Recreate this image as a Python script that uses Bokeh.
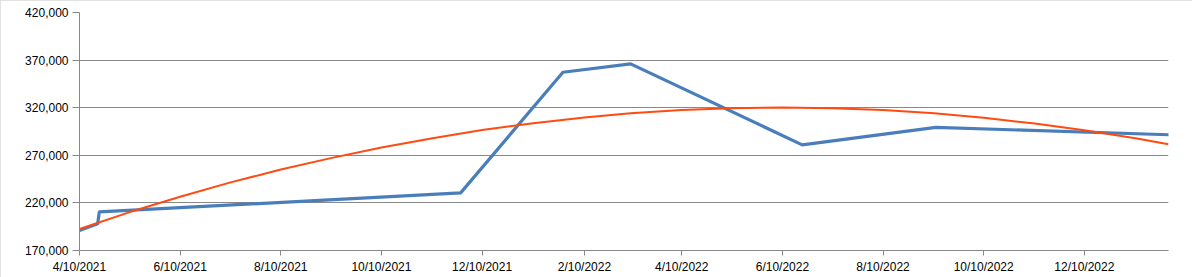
from datetime import datetime
from bokeh.plotting import figure
from bokeh.models import Range1d, FixedTicker, NumeralTickFormatter, CustomJSTickFormatter, ColumnDataSource
from bokeh.embed import file_html
from bokeh.resources import INLINE

# ---- data ----
sale_dates = ["2021-04-10", "2021-04-21", "2021-04-22", "2021-11-27", "2022-01-28",
              "2022-03-10", "2022-06-22", "2022-09-11", "2023-01-30"]
sale_values = [191000, 198200, 210500, 230500, 357200, 366000, 281000, 299300, 291600]

trend_dates = ["2021-04-10", "2021-05-10", "2021-06-10", "2021-07-10", "2021-08-10",
               "2021-09-10", "2021-10-10", "2021-11-10", "2021-12-10", "2022-01-10",
               "2022-02-10", "2022-03-10", "2022-04-10", "2022-05-10", "2022-06-10",
               "2022-07-10", "2022-08-10", "2022-09-10", "2022-10-10", "2022-11-10",
               "2022-12-10", "2023-01-10", "2023-01-30"]
trend_values = [192600, 210100, 226500, 241300, 255000, 267300, 278200, 288000, 296500,
                303700, 309600, 314200, 317500, 319500, 320200, 319500, 317500, 314200,
                309400, 303300, 296200, 287900, 281600]

x_tick_dates = ["2021-04-10", "2021-06-10", "2021-08-10", "2021-10-10", "2021-12-10",
                "2022-02-10", "2022-04-10", "2022-06-10", "2022-08-10", "2022-10-10",
                "2022-12-10"]
y_ticks = [170000, 220000, 270000, 320000, 370000, 420000]
x_start, x_end = "2021-04-10", "2023-01-30"
y_start, y_end = 170000, 420000


def to_dt(s):
    return datetime.strptime(s, "%Y-%m-%d")


def to_ms(s):
    return (to_dt(s) - datetime(1970, 1, 1)).total_seconds() * 1000.0


p = figure(width=1192, height=277, x_axis_type="datetime",
           output_backend="svg", toolbar_location=None,
           x_range=Range1d(to_dt(x_start), to_dt(x_end)),
           y_range=Range1d(y_start, y_end),
           min_border_left=79, min_border_right=24,
           min_border_top=12, min_border_bottom=27)
p.outline_line_color = None
p.background_fill_color = "white"
p.border_fill_color = "white"
p.styles = {"outline": "1px solid #d9d9d9", "outline-offset": "-1px"}

sale_src = ColumnDataSource(dict(x=[to_dt(d) for d in sale_dates], y=sale_values))
trend_src = ColumnDataSource(dict(x=[to_dt(d) for d in trend_dates], y=trend_values))

p.line("x", "y", source=sale_src, line_color="#4A7EBB", line_width=3.2,
       line_join="round", line_cap="round")
p.line("x", "y", source=trend_src, line_color="#FF4A12", line_width=2,
       line_join="round")

grid_color = "#888888"
font = "Liberation Sans"

# y axis
yax = p.yaxis[0]
yax.ticker = FixedTicker(ticks=y_ticks)
yax.formatter = NumeralTickFormatter(format="0,0")
yax.axis_line_color = grid_color
yax.major_tick_line_color = grid_color
yax.major_tick_out = 7
yax.major_tick_in = 0
yax.minor_tick_line_color = None
yax.major_label_standoff = 4
yax.major_label_text_font = font
yax.major_label_text_font_size = "12px"
yax.major_label_text_color = "#000000"

# x axis
xax = p.xaxis[0]
xax.ticker = FixedTicker(ticks=[to_ms(d) for d in x_tick_dates])
xax.formatter = CustomJSTickFormatter(code="""
const d = new Date(tick);
return (d.getUTCMonth() + 1) + '/' + d.getUTCDate() + '/' + d.getUTCFullYear();
""")
xax.axis_line_color = grid_color
xax.major_tick_line_color = grid_color
xax.major_tick_out = 5
xax.major_tick_in = 0
xax.minor_tick_line_color = None
xax.major_label_standoff = 4
xax.major_label_text_font = font
xax.major_label_text_font_size = "12px"
xax.major_label_text_color = "#000000"

p.xgrid.grid_line_color = None
p.ygrid.ticker = FixedTicker(ticks=y_ticks)
p.ygrid.grid_line_color = grid_color
p.ygrid.grid_line_width = 1

open("out.html", "w").write(file_html(p, INLINE))
